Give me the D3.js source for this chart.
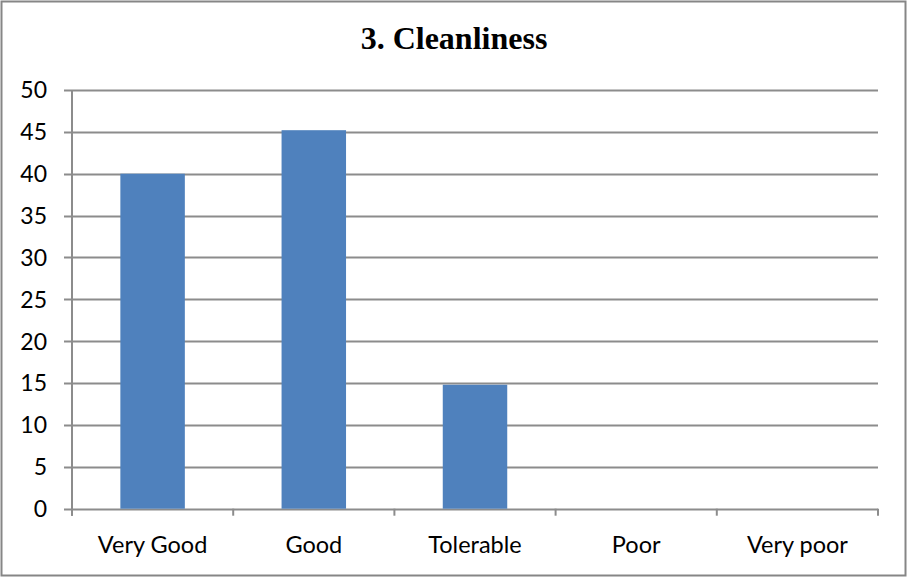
<!DOCTYPE html>
<html><head><meta charset="utf-8">
<script src="https://cdn.jsdelivr.net/npm/d3@7/dist/d3.min.js"></script>
<style>body{margin:0;background:#fff}svg{display:block}</style>
</head><body>
<script>
const title = "3. Cleanliness";
const categories = ["Very Good", "Good", "Tolerable", "Poor", "Very poor"];
const values = [40, 45.2, 14.8, 0, 0];
const yTicks = [0, 5, 10, 15, 20, 25, 30, 35, 40, 45, 50];

(function () {
const W = 907, H = 577;
const svg = d3.select("body").append("svg").attr("width", W).attr("height", H);
svg.append("rect").attr("x", 1.5).attr("y", 1.5).attr("width", W - 3).attr("height", H - 3)
  .attr("fill", "#fff").attr("stroke", "#868686").attr("stroke-width", 2);

const pLeft = 72, pRight = 878, pTop = 90, pBottom = 508.7;
const x = d3.scaleBand().domain(categories).range([pLeft, pRight]).paddingInner(0.6).paddingOuter(0.3);
const y = d3.scaleLinear().domain([0, 50]).range([pBottom, pTop]);

// gridlines
svg.append("g").selectAll("line").data(yTicks).join("line")
  .attr("x1", pLeft - 8).attr("x2", pRight).attr("y1", d => Math.round(y(d)) + 0.5).attr("y2", d => Math.round(y(d)) + 0.5)
  .attr("stroke", "#8c8c8c").attr("stroke-width", 2);

// bars
svg.append("g").selectAll("rect").data(values).join("rect")
  .attr("x", (d, i) => x(categories[i])).attr("width", x.bandwidth())
  .attr("y", d => y(d)).attr("height", d => pBottom - y(d))
  .attr("fill", "#4f81bd");

// y axis line
svg.append("line").attr("x1", pLeft).attr("x2", pLeft).attr("y1", pTop).attr("y2", pBottom + 7)
  .attr("stroke", "#8c8c8c").attr("stroke-width", 2);

// x ticks at band boundaries
const bounds = categories.map(c => x(c) - x.step() * x.paddingInner() / 2).concat([pRight]);
bounds[0] = pLeft;
svg.append("g").selectAll("line").data(bounds).join("line")
  .attr("x1", d => d).attr("x2", d => d).attr("y1", pBottom).attr("y2", pBottom + 7)
  .attr("stroke", "#8c8c8c").attr("stroke-width", 2);

// y labels
svg.append("g").selectAll("text").data(yTicks).join("text")
  .attr("x", 47).attr("y", d => y(d)).attr("dy", "0.36em")
  .attr("text-anchor", "end").attr("font-family", "Lato, 'Open Sans', sans-serif").attr("font-size", 23)
  .attr("fill", "#000").text(d => d);

// x labels
svg.append("g").selectAll("text").data(categories).join("text")
  .attr("x", d => x(d) + x.bandwidth() / 2).attr("y", 552.5)
  .attr("text-anchor", "middle").attr("font-family", "Lato, 'Open Sans', sans-serif").attr("font-size", 23.5)
  .attr("fill", "#000").text(d => d);

// title
svg.append("text").attr("x", 454).attr("y", 49.3).attr("text-anchor", "middle")
  .attr("font-family", "'Liberation Serif', 'Times New Roman', serif").attr("font-weight", "bold")
  .attr("font-size", 32).attr("fill", "#000").text(title);
})();
</script>
</body></html>
